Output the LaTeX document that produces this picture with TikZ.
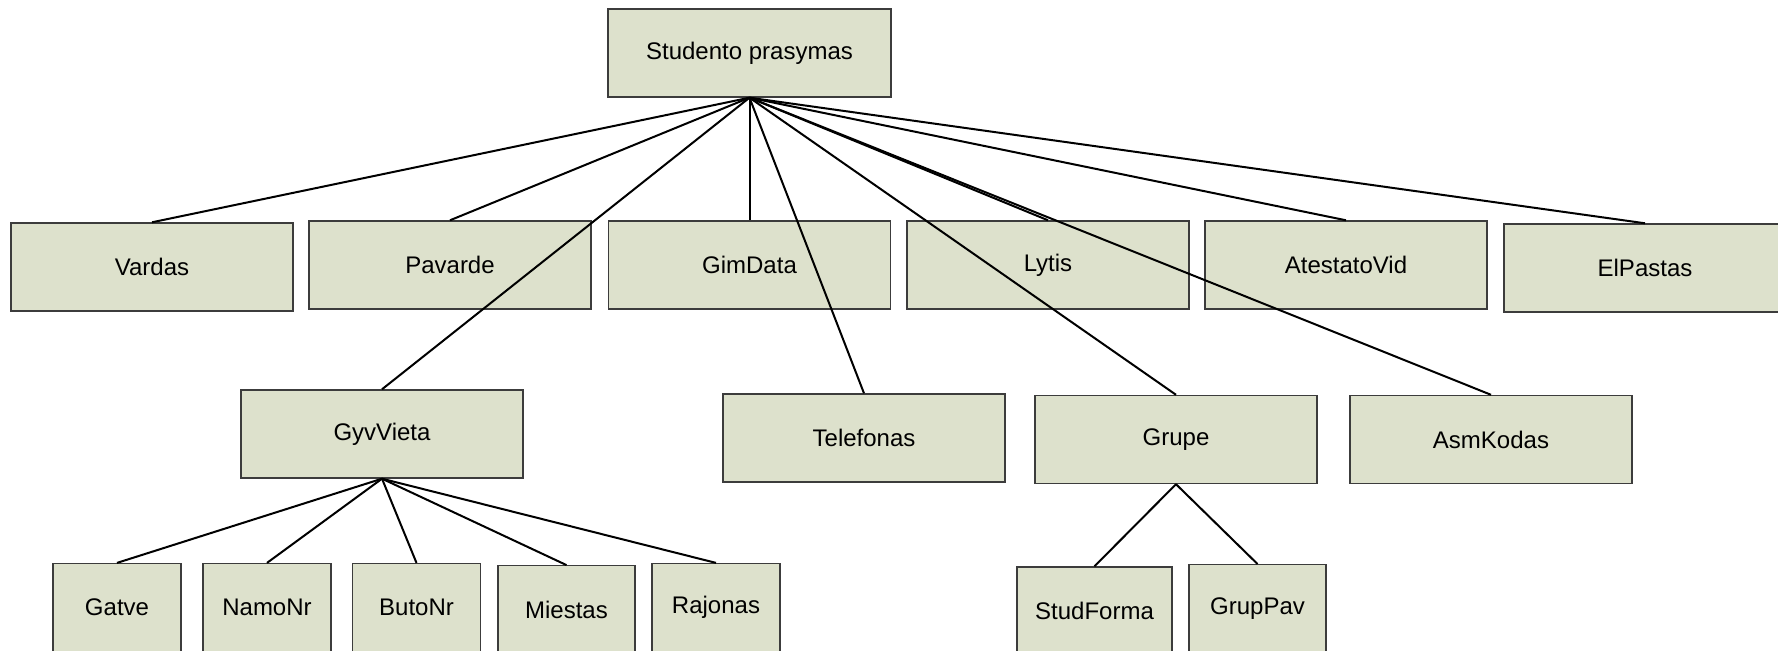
\documentclass[tikz,border=0pt]{standalone}
\usepackage{fontspec}
\setmainfont{Liberation Sans}
\definecolor{boxfill}{RGB}{221,225,204}
\definecolor{boxline}{RGB}{60,60,60}
\begin{document}
\begin{tikzpicture}[x=0.5pt,y=-0.5pt,
  field/.style={draw=boxline, line width=0.7pt, fill=boxfill, inner sep=0pt,
    minimum width=141pt, minimum height=44pt, font=\fontsize{12}{14}\selectfont},
  leaf/.style={field, minimum width=64pt},
  link/.style={draw=black, line width=1pt}]
\useasboundingbox (0,0) rectangle (1778,651);
% root
\node[field, minimum width=141.5pt] (stud) at (749.5,53) {Studento prasymas};
% first level
\node[field] (vardas)  at (152,267)   {Vardas};
\node[field] (pavarde) at (450,265)   {Pavarde};
\node[field] (gimdata) at (749.5,265) {GimData};
\node[field] (lytis)   at (1048,265)  {Lytis};
\node[field] (atest)   at (1346,265)  {AtestatoVid};
\node[field] (elp)     at (1645,268)  {ElPastas};
\node[field] (gyv)     at (382,434)   {GyvVieta};
\node[field] (telef)   at (864,438)   {Telefonas};
\node[field] (grupe)   at (1176,439.5){Grupe};
\node[field] (asm)     at (1491,439.5){AsmKodas};
% address parts
\node[leaf] (gatve)   at (117,607.6)   {Gatve};
\node[leaf] (namo)    at (267,607.6)   {NamoNr};
\node[leaf] (buto)    at (416.5,607.6) {ButoNr};
\node[leaf, minimum width=68.5pt] (miestas) at (566.5,609.8) {Miestas};
\node[leaf] (rajonas) at (716,607.6)   {Rajonas};
% group parts
\node[leaf, minimum width=77.5pt] (studf) at (1094.5,611) {StudForma};
\node[leaf, minimum width=68.5pt] (grupp) at (1257.5,608.7) {GrupPav};
% connectors
\foreach \c in {vardas,pavarde,gimdata,lytis,atest,elp,gyv,telef,grupe,asm}
  \draw[link] (stud.south) -- (\c.north);
\foreach \c in {gatve,namo,buto,miestas,rajonas}
  \draw[link] (gyv.south) -- (\c.north);
\foreach \c in {studf,grupp}
  \draw[link] (grupe.south) -- (\c.north);
\end{tikzpicture}
\end{document}
